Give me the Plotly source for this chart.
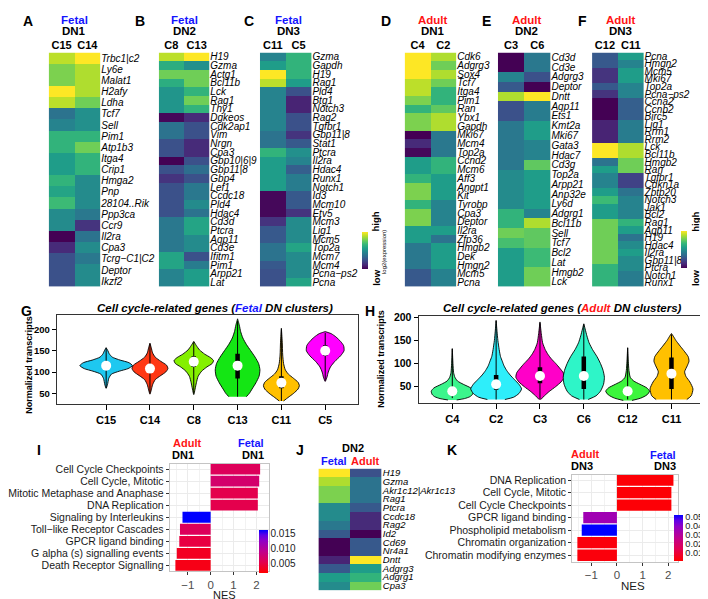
import plotly.graph_objects as go

W, H = 708, 599
FONT = "Liberation Sans, Arial, Helvetica, sans-serif"
BLUE = "#1414FF"
RED = "#FF1414"
CB_SHIFT = 11  # plotly draws the colour bar a little right of its x anchor


def fx(p):
    return p / W


def fy(p):
    return 1 - p / H


# ------------------------------------------------------------------ heatmap data
# scaled log2(expression), 0 = low ... 1 = high
A_cols = ["C15", "C14"]
A_genes = ["Trbc1|c2", "Ly6e", "Malat1", "H2afy", "Ldha", "Tcf7", "Sell", "Pim1", "Atp1b3",
           "Itga4", "Crip1", "Hmga2", "Pnp", "28104..Rik", "Ppp3ca", "Ccr9", "Il2ra", "Cpa3",
           "Tcrg−C1|C2", "Deptor", "Ikzf2"]
A_c15 = [0.9, 0.8, 0.8, 1.0, 0.9, 0.38, 0.45, 0.65, 0.65, 0.55, 0.55, 0.65, 0.58, 0.68, 0.48,
         0.48, 0.0, 0.12, 0.25, 0.25, 0.25]
A_c14 = [1.0, 0.88, 0.88, 0.88, 0.78, 0.5, 0.5, 0.65, 0.78, 0.65, 0.65, 0.48, 0.48, 0.48, 0.4,
         0.15, 0.38, 0.48, 0.4, 0.48, 0.48]

B_cols = ["C8", "C13"]
B_genes = ["H19", "Gzma", "Actg1", "Bcl11b", "Lck", "Rag1", "Thy1", "Dgkeos", "Cdk2ap1", "Vim",
           "Nrgn", "Cpa3", "Gbp10|6|9", "Gbp11|8", "Gbp4", "Lef1", "Ccdc18", "Pld4", "Hdac4",
           "Cd3d", "Ptcra", "Aqp11", "Cd3e", "Ifitm1", "Pim1", "Arpp21", "Lat"]
B_c8 = [0.9, 0.62, 0.78, 0.62, 0.52, 0.52, 0.52, 0.02, 0.38, 0.38, 0.25, 0.25, 0.0, 0.25, 0.15,
        0.25, 0.25, 0.25, 0.25, 0.4, 0.4, 0.4, 0.4, 0.58, 0.58, 0.45, 0.45]
B_c13 = [1.0, 0.5, 0.78, 0.78, 0.65, 0.78, 0.65, 0.12, 0.25, 0.25, 0.12, 0.12, 0.25, 0.36, 0.25,
         0.4, 0.4, 0.48, 0.38, 0.58, 0.58, 0.48, 0.48, 0.25, 0.42, 0.55, 0.55]

C_cols = ["C11", "C5"]
C_genes = ["Gzma", "Gapdh", "H19", "Rag1", "Pld4", "Btg1", "Notch3", "Rag2", "Tgfbr1", "Gbp11|8",
           "Stat1", "Ptcra", "Il2ra", "Hdac4", "Runx1", "Notch1", "Id3", "Mcm10", "Etv5", "Mcm3",
           "Lig1", "Mcm5", "Top2a", "Mcm7", "Mcm4", "Pcna−ps2", "Pcna"]
C_c11 = [0.45, 0.55, 1.0, 0.9, 0.45, 0.45, 0.45, 0.45, 0.45, 0.38, 0.38, 0.65, 0.55, 0.55, 0.55,
         0.55, 0.02, 0.02, 0.02, 0.15, 0.28, 0.28, 0.38, 0.38, 0.28, 0.25, 0.25]
C_c5 = [0.65, 0.65, 0.65, 0.55, 0.25, 0.1, 0.1, 0.25, 0.25, 0.15, 0.28, 0.5, 0.45, 0.3, 0.42,
        0.42, 0.28, 0.28, 0.15, 0.48, 0.48, 0.48, 0.58, 0.48, 0.48, 0.48, 0.58]

D_cols = ["C4", "C2"]
D_genes = ["Cdk6", "Adgrg3", "Sox4", "Tcf7", "Itga4", "Pim1", "Ran", "Ybx1", "Gapdh", "Mki67",
           "Mcm4", "Top2a", "Ccnd2", "Mcm6", "Aff3", "Angpt1", "Kit", "Tyrobp", "Cpa3", "Deptor",
           "Il2ra", "Zfp36", "Hmgb2", "Dek", "Hmgn2", "Mcm5", "Pcna"]
D_c4 = [1.0, 1.0, 1.0, 0.9, 0.9, 0.8, 0.65, 0.8, 0.8, 0.0, 0.12, 0.02, 0.55, 0.55, 0.65, 0.8, 0.8,
        0.65, 0.8, 0.8, 0.55, 0.55, 0.4, 0.4, 0.4, 0.28, 0.28]
D_c2 = [0.88, 0.78, 0.88, 0.78, 0.65, 0.65, 0.75, 0.88, 0.88, 0.4, 0.4, 0.4, 0.65, 0.65, 0.55,
        0.55, 0.55, 0.45, 0.45, 0.45, 0.55, 0.38, 0.55, 0.55, 0.55, 0.44, 0.44]

E_cols = ["C3", "C6"]
E_genes = ["Cd3d", "Cd3e", "Adgrg3", "Deptor", "Dntt", "Aqp11", "Ets1", "Kmt2a", "Mki67", "Gata3",
           "Hdac7", "Cd3g", "Top2a", "Arpp21", "Anp32e", "Ly6d", "Adgrg1", "Bcl11b", "Sell",
           "Tcf7", "Bcl2", "Lat", "Hmgb2", "Lck"]
E_c3 = [0.0, 0.0, 0.45, 0.28, 0.88, 0.25, 0.25, 0.4, 0.4, 0.4, 0.4, 0.4, 0.48, 0.48, 0.48, 0.48,
        0.65, 0.65, 0.78, 0.7, 0.55, 0.55, 0.55, 0.55]
E_c6 = [0.4, 0.4, 0.25, 0.0, 1.0, 0.42, 0.42, 0.55, 0.55, 0.45, 0.45, 0.75, 0.55, 0.55, 0.55,
        0.55, 0.45, 0.88, 0.75, 0.75, 0.68, 0.68, 0.78, 0.78]

F_cols = ["C12", "C11"]
F_genes = ["Pcna", "Hmgn2", "Mcm5", "Mki67", "Top2a", "Pcna−ps2", "Ccna2", "Ccnb2", "Birc5",
           "Lig1", "Rrm1", "Rrm2", "Lck", "Bcl11b", "Hmgb2", "Ran", "Tgfbr1", "Cdkn1a", "Zbtb20",
           "Notch3", "Jak1", "Bcl2", "Rag1", "Aqp11", "H19", "Hdac4", "Il2ra", "Gbp11|8",
           "Ptcra", "Notch1", "Runx1"]
F_c12 = [0.28, 0.28, 0.15, 0.15, 0.28, 0.15, 0.0, 0.0, 0.0, 0.1, 0.1, 0.1, 1.0, 1.0, 0.38, 0.55,
         0.45, 0.45, 0.55, 0.68, 0.55, 0.55, 0.78, 0.78, 0.78, 0.78, 0.78, 0.78, 0.65, 0.65, 0.65]
F_c11 = [0.55, 0.45, 0.55, 0.55, 0.45, 0.45, 0.3, 0.3, 0.3, 0.42, 0.42, 0.42, 0.88, 0.88, 0.78,
         0.78, 0.2, 0.2, 0.38, 0.45, 0.45, 0.45, 0.65, 0.55, 0.38, 0.48, 0.55, 0.48, 0.48, 0.42,
         0.42]

J_cols = ["Fetal", "Adult"]
J_genes = ["H19", "Gzma", "Akr1c12|Akr1c13", "Rag1", "Ptcra", "Ccdc18", "Rag2", "Id2", "Cd69",
           "Nr4a1", "Dntt", "Adgrg3", "Adgrg1", "Cpa3"]
J_fetal = [1.0, 0.88, 0.8, 0.8, 0.48, 0.48, 0.4, 0.28, 0.0, 0.0, 0.1, 0.28, 0.55, 0.48]
J_adult = [0.25, 0.38, 0.38, 0.38, 0.28, 0.12, 0.12, 0.0, 0.28, 0.28, 1.0, 0.55, 0.65, 0.78]

# ------------------------------------------------------------------ violin data
# each violin: density profile = levels (transcripts) and half-widths (category units)
G_cats = ["C15", "C14", "C8", "C13", "C11", "C5"]
G_colors = ["#1EC8F0", "#FF3814", "#84F000", "#14E614", "#FFC000", "#FF00FF"]
G_levels = [
    [62, 70, 85, 95, 102, 108, 115, 122, 128, 135, 143, 150, 157],
    [48, 58, 70, 82, 92, 100, 108, 116, 125, 135, 145, 157, 168],
    [47, 60, 75, 90, 102, 112, 120, 127, 134, 142, 152, 162, 172],
    [42, 50, 60, 75, 90, 105, 120, 135, 150, 165, 180, 195, 210, 225],
    [32, 40, 50, 60, 68, 76, 85, 95, 105, 120, 140, 170, 203],
    [78, 88, 100, 112, 125, 138, 150, 162, 172, 182, 190, 195],
]
G_halfwidth = [
    [0.0, 0.03, 0.06, 0.12, 0.3, 0.5, 0.6, 0.52, 0.32, 0.14, 0.07, 0.04, 0.0],
    [0.0, 0.03, 0.06, 0.12, 0.25, 0.36, 0.41, 0.38, 0.25, 0.12, 0.06, 0.03, 0.0],
    [0.0, 0.03, 0.06, 0.1, 0.18, 0.3, 0.42, 0.45, 0.38, 0.25, 0.13, 0.06, 0.0],
    [0.2, 0.27, 0.33, 0.42, 0.49, 0.51, 0.48, 0.4, 0.3, 0.2, 0.12, 0.07, 0.04, 0.0],
    [0.05, 0.15, 0.28, 0.38, 0.41, 0.38, 0.28, 0.16, 0.09, 0.05, 0.03, 0.02, 0.0],
    [0.0, 0.04, 0.07, 0.12, 0.22, 0.35, 0.43, 0.42, 0.35, 0.25, 0.14, 0.0],
]
G_q1 = [105, 98, 112, 85, 62, 138]
G_median = [115, 108, 124, 115, 75, 150]
G_q3 = [125, 118, 137, 143, 90, 163]
G_low = [62, 50, 50, 42, 32, 80]
G_high = [157, 165, 170, 220, 200, 192]

H_cats = ["C4", "C2", "C3", "C6", "C12", "C11"]
H_colors = ["#3CF58C", "#2EEEFA", "#FF00C8", "#2EF5C8", "#3CF53C", "#FFC000"]
H_levels = [
    [21, 24, 28, 33, 40, 47, 55, 62, 70, 80, 100, 132],
    [22, 27, 35, 45, 55, 65, 75, 85, 95, 105, 115, 130, 150, 170, 193],
    [22, 30, 40, 50, 60, 70, 80, 90, 100, 110, 120, 130, 145, 165, 190],
    [22, 30, 40, 55, 70, 85, 100, 115, 130, 145, 160, 175, 186],
    [20, 25, 32, 40, 47, 55, 62, 70, 85, 105, 134],
    [22, 30, 45, 60, 72, 82, 95, 105, 115, 128, 140, 150, 158, 165],
]
H_halfwidth = [
    [0.1, 0.28, 0.4, 0.46, 0.48, 0.42, 0.25, 0.12, 0.06, 0.03, 0.015, 0.0],
    [0.2, 0.4, 0.52, 0.58, 0.52, 0.42, 0.32, 0.24, 0.18, 0.14, 0.1, 0.07, 0.04, 0.02, 0.0],
    [0.02, 0.1, 0.22, 0.36, 0.48, 0.55, 0.53, 0.45, 0.36, 0.26, 0.18, 0.12, 0.06, 0.03, 0.0],
    [0.1, 0.28, 0.38, 0.45, 0.47, 0.44, 0.38, 0.3, 0.2, 0.12, 0.07, 0.03, 0.0],
    [0.1, 0.3, 0.44, 0.5, 0.44, 0.28, 0.14, 0.06, 0.03, 0.015, 0.0],
    [0.35, 0.45, 0.49, 0.42, 0.33, 0.3, 0.36, 0.4, 0.38, 0.28, 0.18, 0.1, 0.05, 0.0],
]
H_q1 = [35, 43, 57, 45, 35, 45]
H_median = [40, 55, 73, 73, 40, 78]
H_q3 = [47, 75, 92, 115, 45, 113]
H_low = [25, 22, 22, 22, 22, 22]
H_high = [132, 193, 188, 185, 134, 163]

# ------------------------------------------------------------------ GSEA bar data
I_terms = ["Cell Cycle Checkpoints", "Cell Cycle, Mitotic", "Mitotic Metaphase and Anaphase",
           "DNA Replication", "Signaling by Interleukins", "Toll−like Receptor Cascades",
           "GPCR ligand binding", "G alpha (s) signalling events", "Death Receptor Signalling"]
I_nes = [2.16, 2.12, 2.06, 2.06, -1.23, -1.34, -1.37, -1.48, -1.54]
I_padj = [0.0062, 0.0072, 0.0055, 0.0055, 0.0163, 0.0062, 0.005, 0.0035, 0.003]

K_terms = ["DNA Replication", "Cell Cycle, Mitotic", "Cell Cycle Checkpoints",
           "GPCR ligand binding", "Phospholipid metabolism", "Chromatin organization",
           "Chromatin modifying enzymes"]
K_nes = [2.2, 2.12, 2.12, -1.31, -1.37, -1.54, -1.54]
K_padj = [0.002, 0.002, 0.002, 0.035, 0.052, 0.003, 0.003]

PV_SCALE = [[0, "#FF0000"], [0.25, "#E3004F"], [0.5, "#C0008C"], [0.75, "#9000C6"],
            [0.88, "#6000E6"], [1, "#0000FF"]]

# ------------------------------------------------------------------ figure
fig = go.Figure()
layout = {}
anns = []


def names(n):
    s = "" if n == 1 else str(n)
    return "x" + s, "y" + s, "xaxis" + s, "yaxis" + s


def ann(x, y, text, size=11, color="black", weight="bold", style="normal", angle=0,
        xanchor="center"):
    anns.append(dict(x=fx(x), y=fy(y), xref="paper", yref="paper", text=text, showarrow=False,
                     xanchor=xanchor, yanchor="middle", textangle=angle, borderpad=0,
                     font=dict(family=FONT, size=size, color=color, weight=weight, style=style)))


def add_heatmap(n, cols, genes, colvals, box, fsize=10, showcols=True, cbar=None):
    xr, yr, xk, yk = names(n)
    z = [list(r) for r in zip(*colvals)]
    t = go.Heatmap(z=z, x=cols, y=genes, colorscale="Viridis", zmin=0, zmax=1, xaxis=xr,
                   yaxis=yr, showscale=cbar is not None, hoverinfo="skip")
    if cbar is not None:
        t.colorbar = cbar
    fig.add_trace(t)
    x0, x1, y0, y1 = box
    layout[xk] = dict(domain=[fx(x0), fx(x1)], anchor=yr, side="top", showgrid=False,
                      zeroline=False, showline=False, ticks="", showticklabels=showcols,
                      tickfont=dict(family=FONT, size=11, weight="bold", color="black"))
    layout[yk] = dict(domain=[fy(y1), fy(y0)], anchor=xr, side="right", autorange="reversed",
                      showgrid=False, zeroline=False, showline=False, ticks="",
                      tickmode="array", tickvals=genes, ticktext=genes,
                      tickfont=dict(family=FONT, size=fsize, style="italic", color="black"))


def heat_cbar(x, y):
    return dict(x=fx(x - CB_SHIFT), xanchor="left", y=fy(y), yanchor="top", len=37,
                lenmode="pixels", thickness=6, thicknessmode="pixels", showticklabels=False,
                ticks="", outlinewidth=0, xpad=0, ypad=0)


add_heatmap(1, A_cols, A_genes, [A_c15, A_c14], (35, 87, 40, 277))
add_heatmap(2, B_cols, B_genes, [B_c8, B_c13], (146, 197, 40, 277))
add_heatmap(3, C_cols, C_genes, [C_c11, C_c5], (248, 300, 40, 277), cbar=heat_cbar(362, 222))
add_heatmap(4, D_cols, D_genes, [D_c4, D_c2], (394, 446, 40, 277))
add_heatmap(5, E_cols, E_genes, [E_c3, E_c6], (488, 541, 40, 277))
add_heatmap(6, F_cols, F_genes, [F_c12, F_c11], (583, 635, 40, 277), cbar=heat_cbar(684, 221))
add_heatmap(7, J_cols, J_genes, [J_fetal, J_adult], (307, 371, 461, 584), fsize=9.5,
            showcols=False)


def add_violins(n, cats, colors, levels, widths, q1, med, q3, lo, hi, box, xrng, yrng, yfs):
    xr, yr, xk, yk = names(n)
    for i in range(len(cats)):
        ys = levels[i]
        ws = widths[i]
        px_ = [i + w for w in ws] + [i - w for w in ws[::-1]]
        py_ = list(ys) + list(ys[::-1])
        fig.add_trace(go.Scatter(x=px_, y=py_, mode="lines", fill="toself",
                                 fillcolor=colors[i], line=dict(color="black", width=0.9,
                                                                shape="spline", smoothing=0.6),
                                 xaxis=xr, yaxis=yr, hoverinfo="skip"))
        fig.add_trace(go.Scatter(x=[i, i], y=[lo[i], hi[i]], mode="lines",
                                 line=dict(color="black", width=1), xaxis=xr, yaxis=yr,
                                 hoverinfo="skip"))
        fig.add_trace(go.Scatter(x=[i, i], y=[q1[i], q3[i]], mode="lines",
                                 line=dict(color="black", width=4.5), xaxis=xr, yaxis=yr,
                                 hoverinfo="skip"))
        fig.add_trace(go.Scatter(x=[i], y=[med[i]], mode="markers",
                                 marker=dict(color="white", size=10, line=dict(width=0)),
                                 xaxis=xr, yaxis=yr, hoverinfo="skip"))
    x0, x1, y0, y1 = box
    layout[xk] = dict(domain=[fx(x0), fx(x1)], anchor=yr, range=xrng, tickmode="array",
                      tickvals=list(range(len(cats))), ticktext=cats, ticks="outside",
                      ticklen=5, tickcolor="black", showline=True, mirror=True,
                      linecolor="#333333", linewidth=1, showgrid=False, zeroline=False,
                      tickfont=dict(family=FONT, size=11, weight="bold", color="black"))
    layout[yk] = dict(domain=[fy(y1), fy(y0)], anchor=xr, range=yrng, tickmode="array",
                      tickvals=[50, 100, 150, 200], ticks="outside", ticklen=4,
                      tickcolor="black", showline=True, mirror=True, linecolor="#333333",
                      linewidth=1, showgrid=False, zeroline=False,
                      tickfont=dict(family=FONT, size=yfs, weight="bold", color="black"))


add_violins(8, G_cats, G_colors, G_levels, G_halfwidth, G_q1, G_median, G_q3, G_low, G_high,
            (43, 347, 306, 396), [-1.13, 5.75], [24, 233], 9.5)
add_violins(9, H_cats, H_colors, H_levels, H_halfwidth, H_q1, H_median, H_q3, H_low, H_high,
            (408, 702, 307, 395), [-0.77, 5.88], [13.6, 202], 10.5)


def add_bars(n, terms, nes, padj, box, xrng, cmin, cmax, cb_box, cb_vals, cb_text, cbfs):
    xr, yr, xk, yk = names(n)
    cx, cy, clen = cb_box
    fig.add_trace(go.Bar(x=nes, y=terms, orientation="h", width=0.9, xaxis=xr, yaxis=yr,
                         hoverinfo="skip",
                         marker=dict(color=padj, colorscale=PV_SCALE, cmin=cmin, cmax=cmax,
                                     line=dict(width=0),
                                     colorbar=dict(x=fx(cx - CB_SHIFT), xanchor="left",
                                                   y=fy(cy), yanchor="top", len=clen,
                                                   lenmode="pixels", thickness=9,
                                                   thicknessmode="pixels",
                                                   tickvals=cb_vals, ticktext=cb_text,
                                                   ticks="", ticklen=0, outlinewidth=0,
                                                   xpad=0, ypad=0,
                                                   tickfont=dict(family=FONT, size=cbfs,
                                                                 color="#1A1A1A")))))
    x0, x1, y0, y1 = box
    nt = len(terms)
    layout[xk] = dict(domain=[fx(x0), fx(x1)], anchor=yr, range=xrng, tickmode="array",
                      tickvals=[-1, 0, 1, 2], ticks="outside", ticklen=3, tickcolor="#333333",
                      showline=True, mirror=True, linecolor="#C4C4C4", linewidth=1,
                      showgrid=True, gridcolor="#EBEBEB", gridwidth=1, zeroline=False,
                      minor=dict(tickvals=[-1.5, -0.5, 0.5, 1.5, 2.5], showgrid=True,
                                 gridcolor="#F2F2F2", gridwidth=0.6, ticks=""),
                      tickfont=dict(family=FONT, size=11.5, color="#4D4D4D"))
    layout[yk] = dict(domain=[fy(y1), fy(y0)], anchor=xr, type="category",
                      categoryorder="array", categoryarray=terms,
                      tickmode="array", tickvals=terms, ticktext=terms,
                      range=[nt - 1 + 0.5, -0.45], ticks="outside", ticklen=3,
                      tickcolor="#333333", showline=True, mirror=True, linecolor="#C4C4C4",
                      linewidth=1, showgrid=True, gridcolor="#EBEBEB", zeroline=False,
                      tickfont=dict(family=FONT, size=10.5, color="#1A1A1A"))


add_bars(10, I_terms, I_nes, I_padj, (157, 257, 456, 565), [-1.79, 2.54], 0.002, 0.0163,
         (258, 523, 43), [0.005, 0.010, 0.015], ["0.005", "0.010", "0.015"], 10)
add_bars(11, K_terms, K_nes, K_padj, (563, 670, 467, 555), [-1.74, 2.39], 0.001, 0.052,
         (677, 508, 46), [0.01, 0.02, 0.03, 0.04, 0.05], ["0.01", "0.02", "0.03", "0.04", "0.05"],
         9.2)

# ------------------------------------------------------------------ text
for letter, x, y in [("A", 14, 8), ("B", 127, 8), ("C", 237, 8), ("D", 375, 8), ("E", 477, 8),
                     ("F", 573, 8), ("G", 13, 302), ("H", 359, 302), ("I", 25, 442),
                     ("J", 288, 442), ("K", 442, 442)]:
    ann(x, y, letter, size=14)

for x, top, col, dn in [(61, "Fetal", BLUE, "DN1"), (172, "Fetal", BLUE, "DN2"),
                        (277, "Fetal", BLUE, "DN3"), (423, "Adult", RED, "DN1"),
                        (517, "Adult", RED, "DN2"), (612, "Adult", RED, "DN3")]:
    ann(x, 7, top, size=11.5, color=col)
    ann(x, 18, dn, size=11.5)

# heatmap colour keys
for cx in (365, 687):
    ann(cx, 211, "high", size=9.5, angle=-90)
    ann(cx + 1, 268, "low", size=9.5, angle=-90)
    ann(cx + 8, 242, "log2(expression)", size=6, angle=-90, weight="normal")

# violin titles
ann(203, 298, "<b><i>Cell cycle-related genes (<span style='color:%s'>Fetal</span> DN clusters)</i></b>" % BLUE,
    size=11.5)
ann(553, 298, "<b><i>Cell cycle-related genes (<span style='color:%s'>Adult</span> DN clusters)</i></b>" % RED,
    size=11.5)
ann(15, 356, "Normalized transcripts", size=9, angle=-90)
ann(370, 350, "Normalized transcripts", size=9, angle=-90)

# GSEA panel headers
ann(174, 435, "Adult", size=11, color=RED)
ann(170, 447, "DN1", size=11)
ann(239, 435, "Fetal", size=11, color=BLUE)
ann(241, 447, "DN1", size=11)
ann(212, 589, "NES", size=11, weight="normal", color="#1A1A1A")

ann(576, 446, "Adult", size=11, color=RED)
ann(573, 458, "DN3", size=11)
ann(655, 447, "Fetal", size=11, color=BLUE)
ann(657, 458, "DN3", size=11)
ann(624, 580, "NES", size=11.5, weight="normal", color="#1A1A1A")

ann(342, 440, "DN2", size=11)
ann(323, 453, "Fetal", size=11, color=BLUE)
ann(354, 453, "Adult", size=11, color=RED)

fig.update_layout(width=W, height=H, margin=dict(l=0, r=0, t=0, b=0), paper_bgcolor="white",
                  plot_bgcolor="white", showlegend=False, font=dict(family=FONT),
                  annotations=anns, **layout)

fig.write_html("out.html")
